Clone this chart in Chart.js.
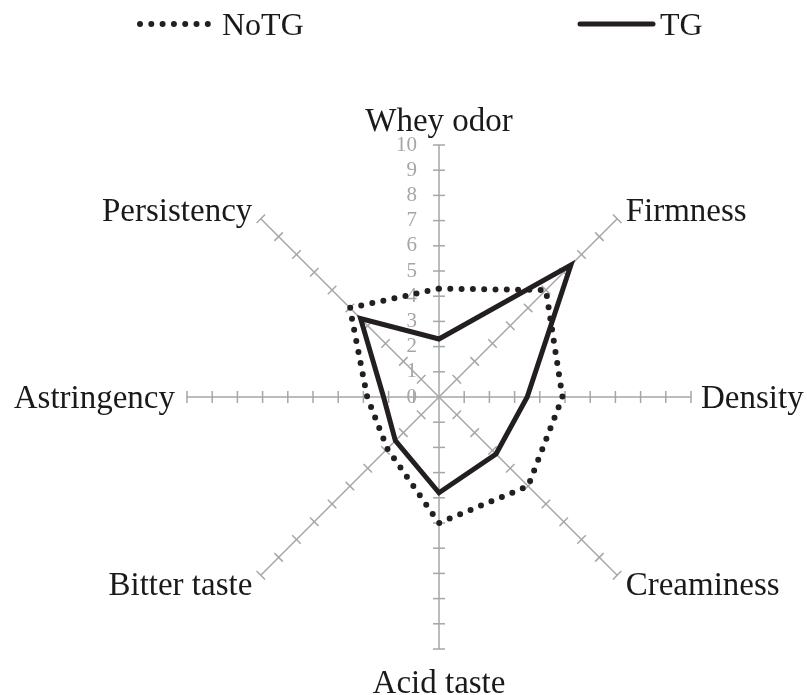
<!DOCTYPE html>
<html>
<head>
<meta charset="utf-8">
<script src="https://cdn.jsdelivr.net/npm/chart.js@4"></script>
<style>
  body { margin: 0; background: #fff; }
</style>
</head>
<body>
<canvas id="radarChart" width="807" height="695"></canvas>
<script>
const attributes = ['Whey odor', 'Firmness', 'Density', 'Creaminess', 'Acid taste', 'Bitter taste', 'Astringency', 'Persistency'];
const noTG = [4.3, 6.0, 4.9, 5.0, 5.0, 2.9, 2.85, 5.0];
const tg = [2.3, 7.4, 3.5, 3.2, 3.8, 2.45, 2.2, 4.4];
const scaleTicks = [0, 1, 2, 3, 4, 5, 6, 7, 8, 9, 10];

const ink = '#231f20';
const axisGrey = '#a6a6a6';
const serif = "'Liberation Serif', 'Times New Roman', serif";

// distance of each label from the end of its spoke
const labelPad = [25, 12, 10, 12, 33, 12, 12, 12];

// tick marks on every spoke, numbers on the vertical one, and the point labels
const spokeDecor = {
    id: 'spokeDecor',
    beforeDatasetsDraw(chart) {
        const ctx = chart.ctx;
        const r = chart.scales.r;
        ctx.save();
        ctx.strokeStyle = axisGrey;
        ctx.lineWidth = 1.5;
        attributes.forEach((name, i) => {
            const a = r.getIndexAngle(i) - Math.PI / 2;
            const px = -Math.sin(a), py = Math.cos(a);
            scaleTicks.forEach(v => {
                if (v === 0) return;
                const p = r.getPointPositionForValue(i, v);
                ctx.beginPath();
                ctx.moveTo(p.x - px * 6, p.y - py * 6);
                ctx.lineTo(p.x + px * 6, p.y + py * 6);
                ctx.stroke();
            });
        });

        ctx.fillStyle = axisGrey;
        ctx.font = '21px ' + serif;
        ctx.textAlign = 'right';
        ctx.textBaseline = 'middle';
        scaleTicks.forEach(v => {
            const y = r.yCenter - r.getDistanceFromCenterForValue(v);
            ctx.fillText(String(v), r.xCenter - 22, y);
        });

        ctx.fillStyle = '#1a1a1a';
        ctx.font = '33px ' + serif;
        ctx.textBaseline = 'alphabetic';
        attributes.forEach((name, i) => {
            const p = r.getPointPosition(i, r.drawingArea + labelPad[i]);
            const dx = p.x - r.xCenter;
            ctx.textAlign = Math.abs(dx) < 2 ? 'center' : (dx > 0 ? 'left' : 'right');
            ctx.fillText(name, p.x, p.y + 11);
        });
        ctx.restore();
    },
    afterDraw(chart) {
        // legend spread across the top like the original
        const ctx = chart.ctx;
        const items = [
            { ds: chart.data.datasets[0], x0: 140, x1: 208, tx: 222 },
            { ds: chart.data.datasets[1], x0: 580, x1: 653, tx: 660 }
        ];
        ctx.save();
        items.forEach(it => {
            ctx.strokeStyle = it.ds.borderColor;
            ctx.lineWidth = it.ds.borderWidth;
            ctx.lineCap = 'round';
            ctx.setLineDash(it.ds.borderDash || []);
            ctx.beginPath();
            ctx.moveTo(it.x0, 24);
            ctx.lineTo(it.x1, 24);
            ctx.stroke();
            ctx.setLineDash([]);
            ctx.fillStyle = '#1a1a1a';
            ctx.font = '32px ' + serif;
            ctx.textAlign = 'left';
            ctx.textBaseline = 'alphabetic';
            ctx.fillText(it.ds.label, it.tx, 35);
        });
        ctx.restore();
    }
};

const ctx = document.getElementById('radarChart').getContext('2d');
const radarChart = new Chart(ctx, {
    type: 'radar',
    data: {
        labels: attributes,
        datasets: [{
            label: 'NoTG',
            data: noTG,
            borderColor: ink,
            borderWidth: 6,
            borderDash: [0, 11.3],
            borderCapStyle: 'round',
            fill: false,
            pointRadius: 0,
            tension: 0
        }, {
            label: 'TG',
            data: tg,
            borderColor: ink,
            borderWidth: 5,
            borderJoinStyle: 'miter',
            fill: false,
            pointRadius: 0,
            tension: 0
        }]
    },
    options: {
        responsive: false,
        animation: false,
        layout: {
            padding: { left: 187, right: 116, top: 145, bottom: 46 }
        },
        plugins: {
            legend: { display: false },
            tooltip: { enabled: false }
        },
        scales: {
            r: {
                min: 0,
                max: 10,
                ticks: { display: false, stepSize: 1 },
                grid: { display: false },
                angleLines: { color: axisGrey, lineWidth: 1.5 },
                pointLabels: { display: false }
            }
        }
    },
    plugins: [spokeDecor]
});
</script>
</body>
</html>
